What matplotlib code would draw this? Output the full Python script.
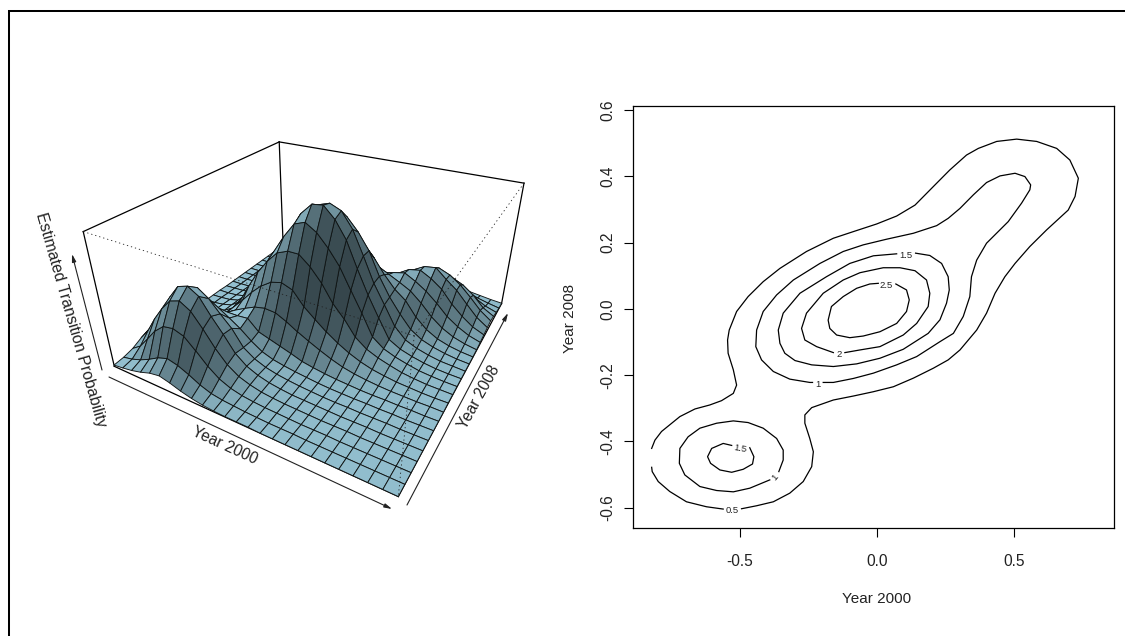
#!/usr/bin/env python3
# plot.py - transition density: perspective surface (left), contours (right)
import numpy as np
from matplotlib import pyplot as plt
from matplotlib.collections import PolyCollection

plt.rcParams['font.family'] = ['Liberation Sans', 'DejaVu Sans']

W, H = 1125, 636

#%% data
# density, rows go along Year 2008, columns along Year 2000
year2000_lim = [-0.889, 0.864]
year2008_lim = [-0.662, 0.611]
density = [
 [.03,.06,.10,.16,.24,.28,.22,.14,.08,.04,.02,.01,.01,.01,0,0,0,0,0,0,0,0,0,0,0],
 [.05,.10,.18,.29,.42,.50,.44,.33,.20,.11,.07,.05,.03,.02,.01,.01,.01,0,0,0,0,0,0,0,0],
 [.10,.25,.51,.78,.97,1.01,.93,.70,.45,.26,.15,.09,.06,.04,.03,.02,.01,.01,.01,0,0,0,0,0,0],
 [.20,.46,.82,1.13,1.38,1.46,1.32,1.02,.68,.41,.24,.15,.09,.06,.04,.03,.02,.01,.01,.01,0,0,0,0,0],
 [.28,.52,.90,1.26,1.56,1.64,1.50,1.15,.84,.50,.30,.19,.12,.08,.05,.04,.03,.02,.01,.01,.01,0,0,0,0],
 [.22,.47,.83,1.12,1.40,1.48,1.32,1.06,.82,.47,.30,.20,.14,.10,.07,.05,.03,.02,.02,.01,.01,.01,0,0,0],
 [.14,.32,.51,.80,.97,1.03,.97,.82,.66,.46,.30,.21,.16,.12,.09,.06,.04,.03,.02,.02,.01,.01,0,0,0],
 [.08,.17,.32,.43,.55,.70,.73,.73,.75,.52,.44,.36,.28,.19,.14,.10,.07,.05,.03,.02,.02,.01,.01,0,0],
 [.04,.09,.15,.22,.33,.50,.64,.76,.87,.92,.90,.78,.63,.50,.38,.27,.18,.12,.08,.05,.03,.02,.01,.01,0],
 [.02,.05,.09,.15,.27,.50,.74,1.00,1.22,1.38,1.44,1.35,1.06,.85,.65,.48,.34,.23,.15,.10,.06,.04,.02,.01,.01],
 [.01,.03,.06,.11,.25,.54,.96,1.34,1.65,1.90,2.00,2.00,1.80,1.52,1.15,.88,.55,.36,.25,.17,.10,.06,.03,.02,.01],
 [.01,.02,.05,.11,.27,.55,.97,1.38,1.76,2.14,2.46,2.55,2.40,2.14,1.82,1.38,.95,.49,.30,.20,.13,.07,.04,.02,.01],
 [.01,.02,.04,.10,.28,.50,.88,1.23,1.65,2.15,2.58,2.82,2.85,2.62,2.26,1.72,1.22,.78,.36,.22,.14,.08,.04,.02,.01],
 [.01,.01,.03,.08,.20,.38,.68,1.00,1.45,1.90,2.35,2.72,2.80,2.70,2.38,1.88,1.35,.94,.52,.28,.17,.10,.05,.03,.01],
 [0,.01,.02,.05,.12,.24,.42,.65,1.08,1.45,1.90,2.22,2.50,2.48,2.22,1.88,1.38,.98,.66,.38,.22,.13,.07,.03,.01],
 [0,0,.01,.03,.07,.14,.25,.45,.70,.94,1.26,1.53,1.78,1.92,1.88,1.62,1.30,1.03,.84,.53,.31,.17,.09,.04,.01],
 [0,0,.01,.02,.04,.08,.15,.26,.40,.49,.70,.97,1.17,1.30,1.36,1.30,1.18,1.06,.93,.72,.47,.28,.15,.07,.02],
 [0,0,0,.01,.02,.04,.08,.14,.22,.31,.40,.48,.61,.76,.92,1.03,1.10,1.16,1.03,.87,.66,.42,.25,.12,.04],
 [0,0,0,.01,.01,.02,.04,.07,.11,.16,.22,.28,.35,.44,.52,.68,.96,1.12,1.17,1.04,.86,.58,.36,.18,.07],
 [0,0,0,0,.01,.01,.02,.04,.06,.09,.13,.18,.23,.30,.38,.57,.78,.99,1.14,1.18,.97,.78,.52,.27,.10],
 [0,0,0,0,0,.01,.01,.02,.04,.05,.07,.10,.13,.17,.24,.38,.58,.78,.97,1.05,.95,.78,.55,.30,.12],
 [0,0,0,0,0,0,.01,.01,.02,.03,.04,.06,.08,.10,.15,.23,.37,.57,.70,.78,.76,.65,.47,.23,.09],
 [0,0,0,0,0,0,0,.01,.01,.02,.03,.03,.05,.06,.08,.13,.21,.33,.46,.51,.50,.41,.26,.13,.05],
 [0,0,0,0,0,0,0,0,.01,.01,.01,.02,.02,.03,.05,.07,.11,.18,.25,.28,.27,.21,.13,.07,.02],
 [0,0,0,0,0,0,0,0,0,.01,.01,.01,.01,.02,.02,.03,.05,.08,.11,.13,.12,.09,.06,.03,.01],
]

# contours as (Year 2000, Year 2008), broken where the labels sit
level05_a = [(-.494,-.603),(-.439,-.594),(-.378,-.582),(-.318,-.556),(-.269,-.521),(-.238,-.476),(-.232,-.431),
  (-.245,-.391),(-.263,-.345),(-.263,-.320),(-.238,-.298),(-.159,-.275),(-.086,-.263),(-.013,-.250),(.060,-.235),
  (.133,-.209),(.206,-.179),(.260,-.154),(.303,-.124),(.364,-.064),(.400,-.013),(.431,.047),(.467,.097),(.504,.137),
  (.558,.188),(.619,.238),(.698,.298),(.723,.339),(.735,.394),(.704,.449),(.656,.484),(.583,.505),(.510,.512),
  (.437,.505),(.370,.484),(.327,.464),(.266,.419),(.206,.369),(.139,.313),(.072,.280),(-.001,.256),(-.086,.233),
  (-.159,.213),(-.257,.173),(-.354,.122),(-.415,.082),(-.470,.037),(-.512,-.008),(-.539,-.064),(-.545,-.094),
  (-.543,-.134),(-.524,-.184),(-.512,-.230),(-.524,-.255),(-.567,-.277),(-.610,-.290),(-.664,-.302),(-.719,-.325),
  (-.786,-.370),(-.810,-.396),(-.822,-.421)]
level05_b = [(-.822,-.478),(-.820,-.491),(-.798,-.521),(-.756,-.551),(-.695,-.582),(-.622,-.597),(-.561,-.604)]
level1_main = [(-.196,-.222),(-.159,-.222),(-.086,-.210),(-.013,-.194),(.072,-.169),(.145,-.144),(.230,-.099),
  (.279,-.074),(.315,-.023),(.339,.037),(.345,.097),(.364,.147),(.400,.198),(.479,.263),(.528,.319),(.558,.359),
  (.561,.374),(.540,.399),(.504,.409),(.449,.401),(.400,.381),(.352,.344),(.303,.303),(.260,.273),(.218,.251),
  (.133,.228),(.035,.210),(-.050,.193),(-.123,.173),(-.208,.137),(-.305,.087),(-.366,.042),(-.415,-.008),
  (-.439,-.064),(-.442,-.114),(-.421,-.154),(-.378,-.189),(-.318,-.212),(-.245,-.222),(-.235,-.222)]
level1_blob = [(-.358,-.491),(-.342,-.456),(-.342,-.426),(-.366,-.391),(-.415,-.360),(-.470,-.343),(-.524,-.338),
  (-.585,-.345),(-.646,-.360),(-.689,-.386),(-.719,-.421),(-.721,-.466),(-.701,-.501),(-.646,-.536),(-.585,-.548),
  (-.524,-.552),(-.464,-.541),(-.391,-.516)]
level15_main = [(.141,.168),(.193,.161),(.236,.137),(.260,.097),(.264,.057),(.254,.017),(.230,-.033),(.187,-.074),
  (.096,-.122),(.011,-.149),(-.074,-.166),(-.159,-.174),(-.238,-.169),(-.299,-.156),(-.336,-.134),(-.354,-.104),
  (-.360,-.064),(-.342,-.013),(-.281,.047),(-.184,.097),(-.099,.137),(-.013,.160),(.072,.166)]
level15_blob = [(-.464,-.419),(-.449,-.446),(-.454,-.468),(-.488,-.484),(-.530,-.493),(-.573,-.486),(-.607,-.466),
  (-.618,-.446),(-.603,-.421),(-.561,-.406),(-.530,-.412)]
level2 = [(-.117,-.132),(-.062,-.124),(.011,-.114),(.096,-.079),(.145,-.044),(.187,.007),(.193,.047),(.181,.087),
  (.139,.115),(.084,.124),(.023,.124),(-.062,.109),(-.123,.087),(-.196,.047),(-.257,-.013),(-.275,-.059),
  (-.263,-.094),(-.220,-.114),(-.159,-.132)]
level25 = [(.069,.075),(.108,.057),(.118,.027),(.108,-.008),(.072,-.044),(.011,-.069),(-.050,-.082),(-.099,-.087),
  (-.147,-.079),(-.172,-.059),(-.178,-.034),(-.166,.007),(-.123,.037),(-.074,.062),(-.026,.075),(.005,.077)]
contour_paths = [level05_a, level05_b, level1_main, level1_blob, level15_main, level15_blob, level2, level25]

label_text = ['0.5', '1', '1', '1.5', '1.5', '2', '2.5']
label_x = [-.529, -.214, -.370, .105, -.498, -.139, .033]
label_y = [-.609, -.228, -.508, .161, -.423, -.137, .070]
label_rot = [0, 0, 50, 0, -10, 0, 0]

year2000_ticks = [-0.5, 0.0, 0.5]
year2008_ticks = [-0.6, -0.4, -0.2, 0.0, 0.2, 0.4, 0.6]

#%% camera: where the box corners land on the page, (u, v, w) -> pixel
corner_uvw = [(0,0,0),(1,0,0),(1,1,0),(0,1,0),(0,0,1),(1,0,1),(1,1,1),(0,1,1)]
corner_px = [(115,367),(397,497),(502,303),(283,245),(83,231),(415,335),(524,184),(279,142)]

def camera(uvw, px):
  rows = []
  for (u, v, w), (x, y) in zip(uvw, px):
    rows.append([u, v, w, 1, 0, 0, 0, 0, -x*u, -x*v, -x*w, -x])
    rows.append([0, 0, 0, 0, u, v, w, 1, -y*u, -y*v, -y*w, -y])
  P = np.linalg.svd(np.array(rows, float))[2][-1].reshape(3, 4)
  if P[2] @ np.array([.5, .5, .5, 1]) < 0:
    P = -P
  return P

def project(P, u, v, w):
  q = np.stack([u, v, w, np.ones_like(u)], axis=-1) @ P.T
  return q[..., 0]/q[..., 2], q[..., 1]/q[..., 2], q[..., 2]

def draw_surface(ax):
  P = camera(corner_uvw, corner_px)
  z = np.array(density, float)
  nv, nu = z.shape
  u, v = np.meshgrid(np.linspace(0, 1, nu), np.linspace(0, 1, nv))
  w = z/z.max()
  px, py, depth = project(P, u, v, w)

  # box edges behind the surface
  for a, b in [(4, 7), (7, 6), (7, 3), (4, 0), (6, 2), (0, 1), (1, 2)]:
    c = np.array(corner_uvw, float)[[a, b]]
    x, y, _ = project(P, c[:, 0], c[:, 1], c[:, 2])
    ax.plot(x, y, color='black', lw=0.9, zorder=1)

  # facets back to front, shaded as persp does
  light = np.array([-0.5, 0.4, 0.77])
  light = light/np.linalg.norm(light)
  du, dv = 1/(nu-1), 1/(nv-1)
  polys, shades, order = [], [], []
  for j in range(nv-1):
    for i in range(nu-1):
      polys.append(np.array([(px[j, i], py[j, i]), (px[j, i+1], py[j, i+1]),
                             (px[j+1, i+1], py[j+1, i+1]), (px[j+1, i], py[j+1, i])]))
      dwdu = (w[j, i+1] + w[j+1, i+1] - w[j, i] - w[j+1, i])/(2*du)*0.38
      dwdv = (w[j+1, i] + w[j+1, i+1] - w[j, i] - w[j, i+1])/(2*dv)*0.38
      n = np.array([-dwdu, -dwdv, 1.0])
      n = n/np.linalg.norm(n)
      shades.append(((1 + n @ light)/2)**1.2)
      order.append(depth[j:j+2, i:i+2].mean())
  order = np.argsort(order)[::-1]
  base = np.array([0.66, 0.86, 0.93])
  colors = [np.clip(base*shades[k], 0, 1) for k in order]
  ax.add_collection(PolyCollection([polys[k] for k in order], facecolors=colors,
                                   edgecolors='#101515', linewidths=0.65, zorder=2))

  # box edges in front of the surface
  for a, b in [(4, 5), (6, 5), (5, 1)]:
    c = np.array(corner_uvw, float)[[a, b]]
    x, y, _ = project(P, c[:, 0], c[:, 1], c[:, 2])
    ax.plot(x, y, color='#222222', lw=0.6, ls=(0, (1.5, 3.5)), zorder=3)

def draw_arrows(ax):
  for tail, tip in [((109, 377), (392, 509)), ((407, 505), (508, 313)), ((102, 370), (72, 254))]:
    ax.annotate('', xy=tip, xytext=tail,
                arrowprops=dict(arrowstyle='-|>,head_length=0.45,head_width=0.12', color='#222222',
                                lw=0.8, shrinkA=0, shrinkB=0))
  ax.text(225, 446, 'Year 2000', rotation=-24.7, ha='center', va='center', fontsize=11.2,
          rotation_mode='anchor', color='#222222')
  ax.text(479, 397, 'Year 2008', rotation=61, ha='center', va='center', fontsize=11.2,
          rotation_mode='anchor', color='#222222')
  ax.text(71, 320, 'Estimated Transition Probability', rotation=-74, ha='center', va='center',
          fontsize=11.4, rotation_mode='anchor', color='#222222')
  ax.text(877, 599, 'Year 2000', ha='center', va='center', fontsize=11, color='#222222')
  ax.text(570, 318, 'Year 2008', rotation=90, ha='center', va='center', fontsize=11, color='#222222')

def draw_contours(fig):
  ax = fig.add_axes([633.3/W, 1 - 528.3/H, 480.4/W, 422/H])
  for path in contour_paths:
    xy = np.array(path)
    ax.plot(xy[:, 0], xy[:, 1], color='black', lw=0.9, solid_joinstyle='round')
  for s, x, y, r in zip(label_text, label_x, label_y, label_rot):
    ax.text(x, y, s, fontsize=6.8, ha='center', va='center', rotation=r, color='#222222')
  ax.set_xlim(year2000_lim)
  ax.set_ylim(year2008_lim)
  ax.set_xticks(year2000_ticks, [f'{t:.1f}' for t in year2000_ticks])
  ax.set_yticks(year2008_ticks, [f'{t:.1f}' for t in year2008_ticks])
  ax.tick_params(axis='x', length=6.5, width=0.8, labelsize=11.2, pad=12, labelcolor='#222222')
  ax.tick_params(axis='y', length=6.5, width=0.8, labelsize=11.2, pad=6.5, labelcolor='#222222')
  plt.setp(ax.get_yticklabels(), rotation=90, va='center')
  for s in ax.spines.values():
    s.set_linewidth(0.9)

def main():
  fig = plt.figure(figsize=(W/100, H/100), dpi=100)
  ax = fig.add_axes([0, 0, 1, 1])
  ax.set_xlim(0, W)
  ax.set_ylim(H, 0)
  ax.axis('off')
  ax.plot([9, 9, W + 5], [H + 5, 11, 11], color='black', lw=1.45, solid_joinstyle='miter')
  draw_surface(ax)
  draw_arrows(ax)
  draw_contours(fig)
  fig.savefig('out.png', dpi=100)

if __name__ == '__main__':
  main()
